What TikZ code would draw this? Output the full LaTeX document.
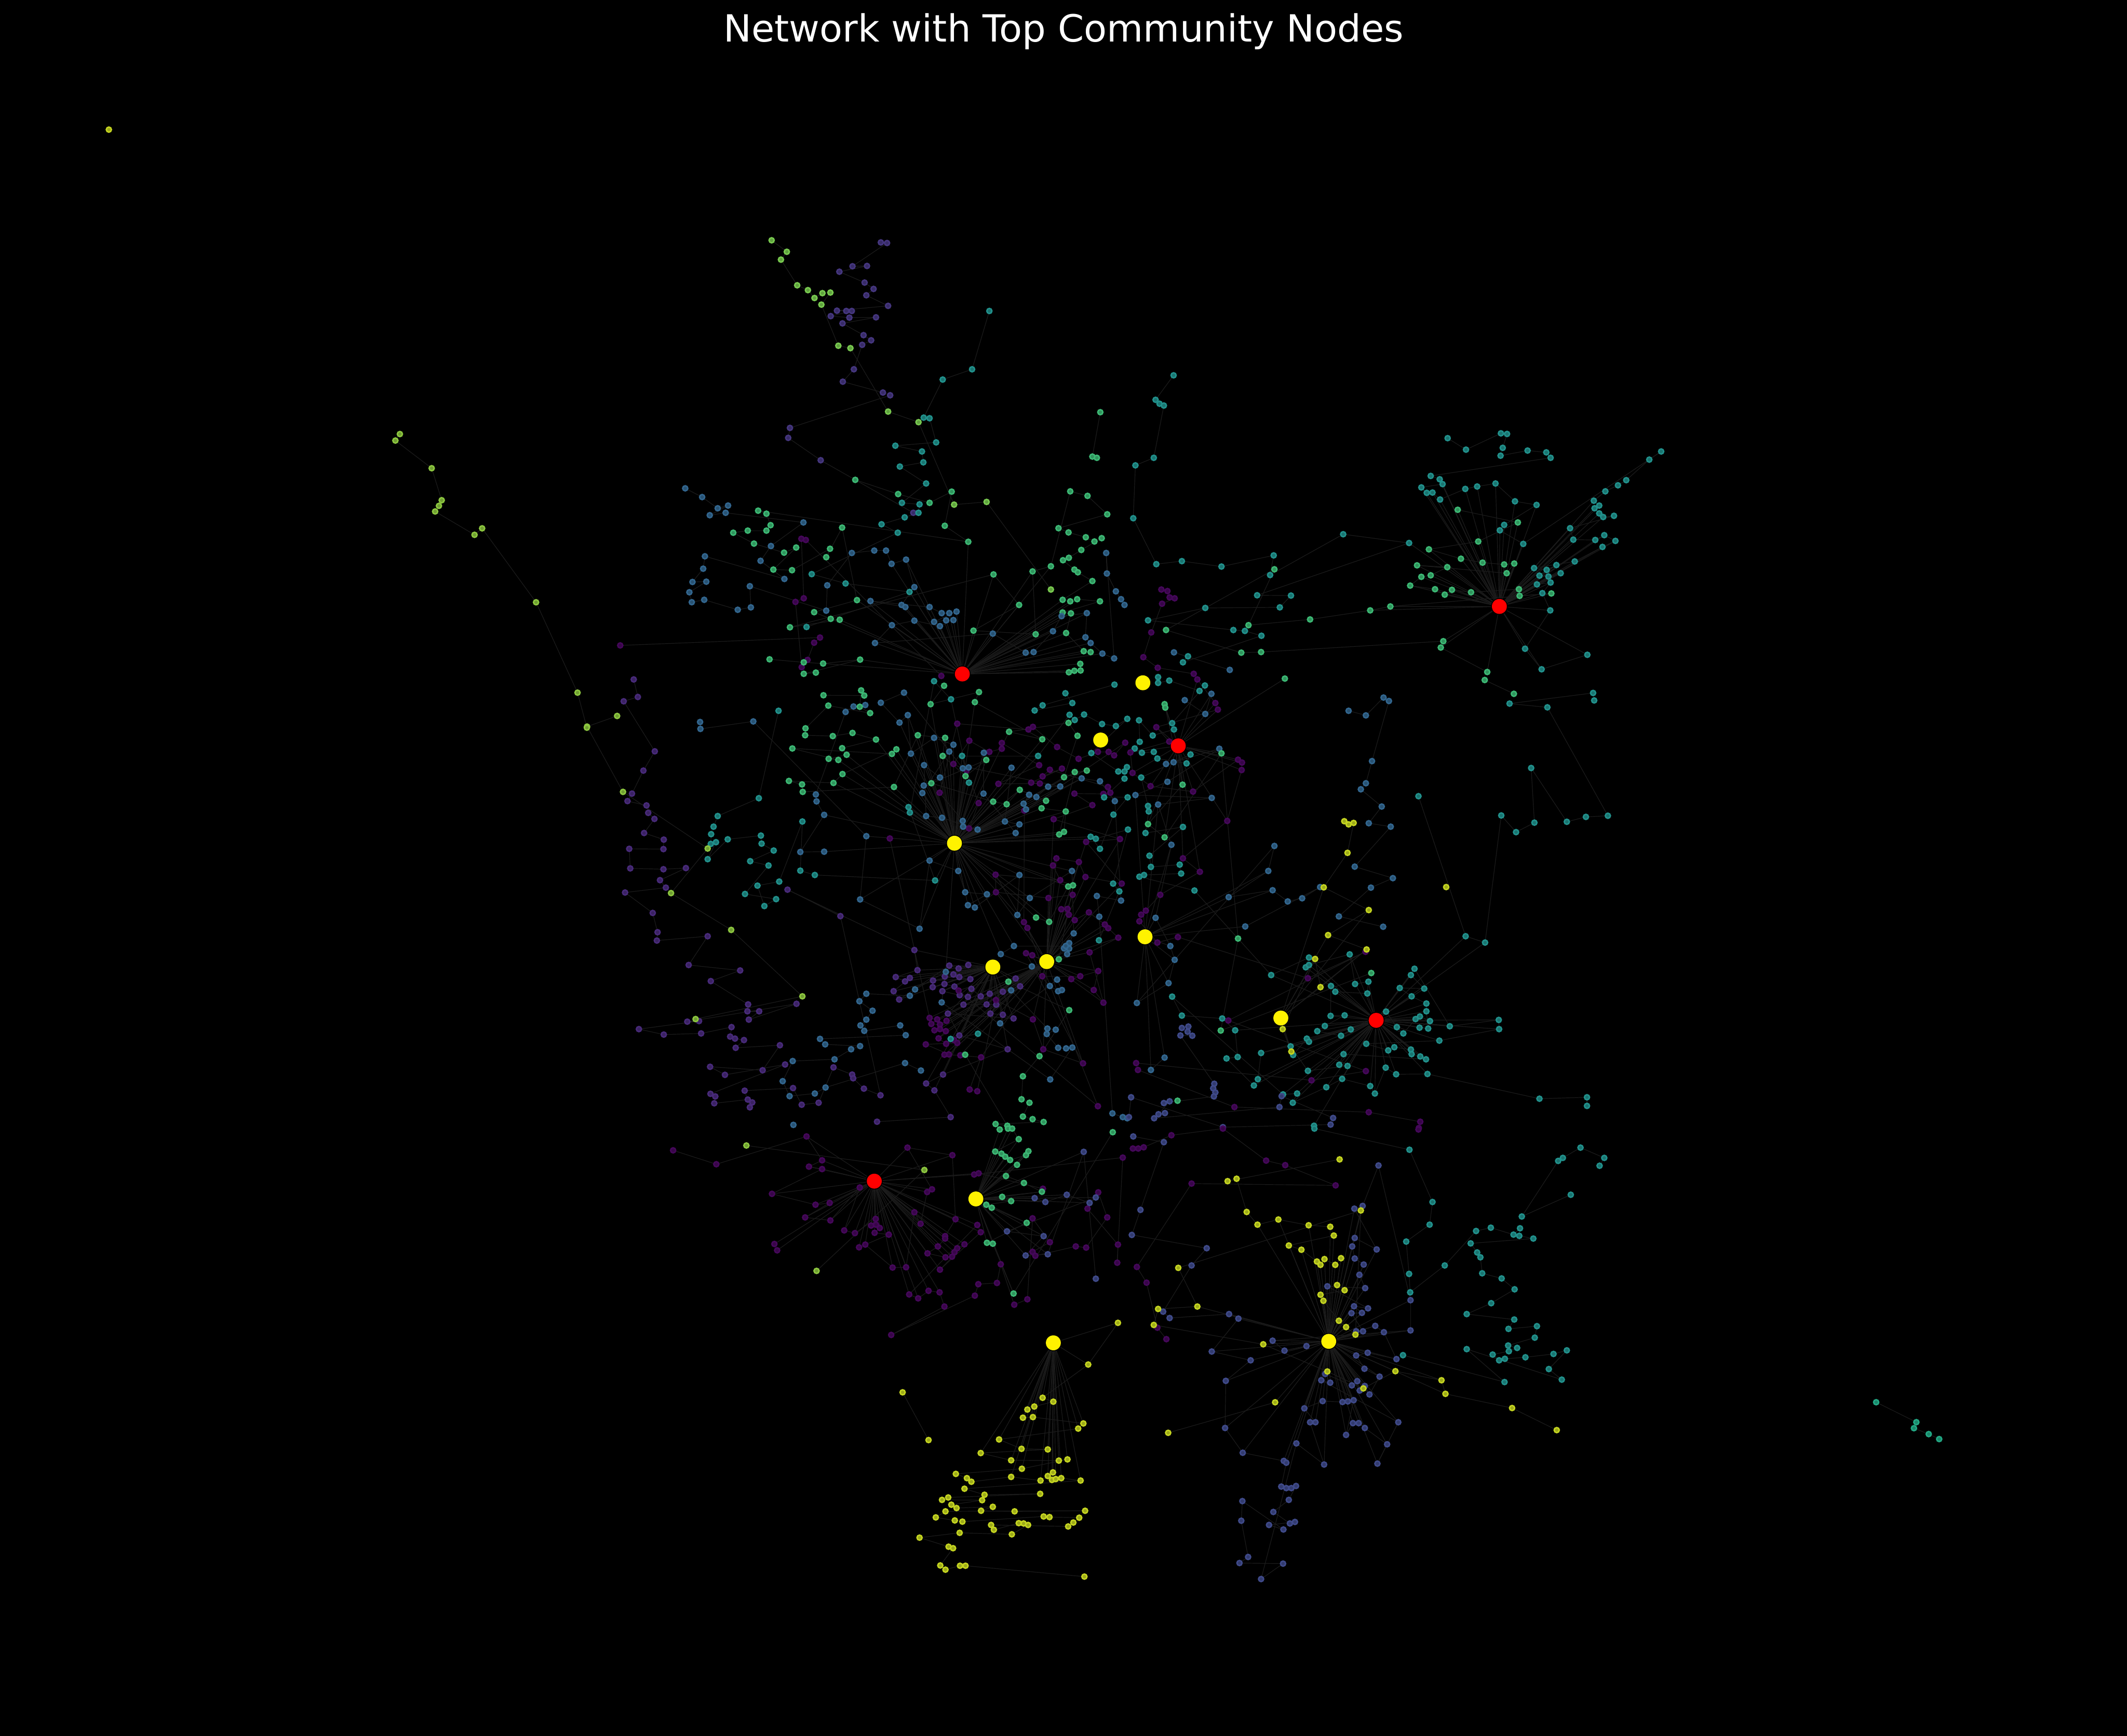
\documentclass[tikz,border=0pt]{standalone}
\usepackage{fontspec}
\newfontfamily\titlefont{DejaVu Sans}
\usepackage{tikz}
\pgfdeclarelayer{edges}
\pgfdeclarelayer{front}
\pgfsetlayers{edges,main,front}
\definecolor{vdark}{HTML}{45075A}
\definecolor{vpurple}{HTML}{482A7A}
\definecolor{vindigo}{HTML}{45367F}
\definecolor{vslate}{HTML}{3F4A8A}
\definecolor{vblue}{HTML}{32668F}
\definecolor{vteal}{HTML}{21918C}
\definecolor{vjade}{HTML}{22A884}
\definecolor{vgreen}{HTML}{3CB874}
\definecolor{vlime}{HTML}{78C94F}
\definecolor{vleaf}{HTML}{8CC63F}
\definecolor{volive}{HTML}{C4D420}
\definecolor{linkgrey}{HTML}{1B1B1B}
\tikzset{
  vtx/.style={fill=#1!80!black, draw=#1, line width=0.3pt},
  link/.style={draw=linkgrey, line width=0.13pt},
  hubnode/.style={circle, fill=#1, inner sep=0pt, minimum size=0.11cm},
  patch/.style n args={4}{shift={(#1cm,#2cm)}, x=#3cm, y=#4cm},
  titletext/.style={text=white, font=\titlefont\fontsize{7.85}{9}\selectfont, anchor=base, inner sep=0pt}}
% link two named points if they lie close enough
\newcommand\linknear[3]{%
  \pgfpointdiff{\pgfpointanchor{#1}{center}}{\pgfpointanchor{#2}{center}}%
  \pgfgetlastxy\hubdx\hubdy
  \pgfmathparse{veclen(\hubdx,\hubdy)}%
  \ifdim\pgfmathresult pt<#3\draw[link] (#1) -- (#2);\fi}
% #1 name, #2 colour, #3 hub (or empty), #4 points
\newcommand\dotgroup[4]{%
  \foreach \p [count=\i] in {#4} {\path \p coordinate (#1-\i);}
  \begin{pgfonlayer}{edges}
    \foreach \p [count=\i] in {#4} {%
      \ifnum\i>1 \pgfmathtruncatemacro\j{\i-1}\linknear{#1-\j}{#1-\i}{45pt}\fi
      \ifx\relax#3\relax\else\linknear{#3}{#1-\i}{30pt}\fi}
  \end{pgfonlayer}
  \foreach \p [count=\i] in {#4} {\filldraw[vtx=#2] (#1-\i) circle[radius=0.019cm];}}

\begin{document}
\begin{tikzpicture}
\begin{pgfonlayer}{edges}
\fill[black] (0,0) rectangle (15.68,-12.80);
\end{pgfonlayer}
\useasboundingbox (0,0) rectangle (15.68,-12.80);

\node[titletext] (title) at (7.84,-0.31) {Network with Top Community Nodes};

% top community nodes
\begin{pgfonlayer}{front}
\node[hubnode=red] (r1) at (7.094,-4.970) {};
\node[hubnode=red] (r2) at (8.686,-5.500) {};
\node[hubnode=red] (r3) at (11.053,-4.472) {};
\node[hubnode=red] (r4) at (10.145,-7.524) {};
\node[hubnode=red] (r5) at (6.445,-8.710) {};
\node[hubnode=yellow] (y1) at (8.425,-5.035) {};
\node[hubnode=yellow] (y2) at (8.114,-5.457) {};
\node[hubnode=yellow] (y3) at (7.036,-6.218) {};
\node[hubnode=yellow] (y4) at (8.441,-6.908) {};
\node[hubnode=yellow] (y5) at (7.716,-7.091) {};
\node[hubnode=yellow] (y6) at (7.319,-7.131) {};
\node[hubnode=yellow] (y7) at (9.442,-7.507) {};
\node[hubnode=yellow] (y8) at (7.194,-8.841) {};
\node[hubnode=yellow] (y9) at (7.765,-9.902) {};
\node[hubnode=yellow] (y10) at (9.795,-9.891) {};
\end{pgfonlayer}

% upper left
\begin{scope}[patch={4.3276}{-1.4980}{0.0025476}{-0.0022291}]
\dotgroup{alime}{vlime}{}{(534,123),(578,161),(561,187),(608,272),(639,288),(658,314),(681,298),(704,296),(678,336),(727,472),(762,480),(871,690),(959,725),(1062,998),(1156,989),(1342,1279)}
\dotgroup{aindigo}{vindigo}{}{(850,130),(868,132),(768,209),(810,208),(730,227),(803,263),(829,284),(808,305),(871,340),(723,356),(750,357),(766,357),(705,374),(759,379),(836,378),(739,398),(800,437),(822,454),(796,469),(772,550),(740,591),(856,627),(877,636),(587,744),(582,777),(676,851),(944,1025)}
\dotgroup{adark}{vdark}{}{(96,1464),(674,1438),(657,1455),(638,1512),(621,1536),(603,1320),(627,1308),(620,1111),(633,1115),(1025,1565)}
\dotgroup{ateal}{vteal}{r1}{(1164,357),(1114,550),(1029,584),(974,710),(991,712),(1010,792),(892,803),(969,822),(973,858),(905,872),(981,928),(911,992),(962,997),(959,1025),(919,1040),(852,1063),(899,1091),(650,1228),(748,1259),(933,1287),(635,1403)}
\dotgroup{agreen}{vgreen}{r1}{(1485,692),(1462,839),(1475,843),(776,916),(900,963),(991,992),(1055,955),(1035,1068),(1103,1121),(495,1018),(519,1028),(531,1066),(519,1084),(465,1084),(423,1091),(483,1127),(570,1157),(605,1140),(539,1213),(593,1215),(703,1144),(692,1172),(738,1074),(781,1314),(657,1354),(705,1376),(731,1379),(587,1404),(1176,1229),(1250,1330),(1118,1415),(1298,1427),(1289,1219),(1342,1202),(1398,954),(1448,969),(1505,1030),(1364,1076),(1393,1090),(1443,1106),(1468,1120),(1489,1109),(1430,1148),(1394,1174),(1377,1182),(1410,1213),(1420,1222),(1462,1251),(1376,1313),(1398,1318),(1418,1311),(1484,1318),(1376,1355),(1400,1358),(1386,1423),(1437,1483),(1457,1486),(528,1510),(627,1520),(683,1524),(790,1511),(627,1558),(662,1554),(1394,1553),(1410,1548),(1428,1547),(1427,1525)}
\dotgroup{ablue}{vblue}{r1}{(284,944),(333,973),(378,1010),(408,1001),(355,1033),(401,1025),(626,1057),(532,1135),(502,1184),(571,1244),(341,1169),(336,1210),(305,1254),(345,1253),(296,1288),(303,1321),(339,1313),(436,1346),(474,1338),(471,1268),(692,1349),(695,1265),(766,1158),(831,1150),(865,1150),(881,1194),(923,1180),(947,1271),(910,1330),(921,1337),(820,1317),(991,1337),(1026,1357),(1048,1357),(1069,1352),(1004,1386),(1039,1381),(1060,1380),(1021,1400),(947,1382),(882,1397),(833,1456),(1174,1425),(1269,1488),(1292,1486),(1348,1417),(1373,1367),(1446,1357),(1442,1437),(1457,1456),(1491,1491),(1525,1507),(1502,1158),(1504,1226),(1530,1285),(1545,1311),(1555,1330)}
\end{scope}

% upper right
\begin{scope}[patch={8.3222}{-1.4980}{0.0026538}{-0.0022291}]
\dotgroup{bteal}{vteal}{r3}{(124,570),(74,651),(85,664),(97,670),(69,843),(18,868),(12,1043),(76,1195),(147,1185),(257,1203),(402,1166),(392,1231),(595,1096),(778,1125),(356,1298),(450,1299),(419,1338),(212,1340),(53,1381),(290,1413),(322,1416),(368,1432),(150,1520),(164,1500),(885,778),(936,816),(1033,762),(1050,764),(1038,810),(1032,836),(1107,819),(1159,825),(1171,843),(838,903),(863,914),(871,930),(812,941),(827,959),(843,958),(864,981),(934,946),(967,938),(1018,928),(1072,987),(1132,999),(1042,1065),(1030,1083),(1095,1128),(1478,822),(1445,849),(1381,917),(1358,934),(1323,954),(1291,985),(1306,1001),(1293,1010),(1306,1027),(1317,1039),(1347,1035),(1225,1076),(1234,1114),(1295,1115),(1320,1099),(1351,1118),(1315,1138),(1238,1186),(1125,1208),(1160,1214),(1187,1198),(1140,1233),(1165,1236),(1199,1225),(1133,1262),(1171,1256),(1148,1291),(1170,1348),(1100,1475),(1146,1543),(1273,1495)}
\dotgroup{bgreen}{vgreen}{r3}{(913,1015),(1080,1057),(970,1120),(833,1146),(922,1177),(982,1190),(1042,1196),(1070,1193),(1049,1225),(800,1199),(884,1205),(838,1232),(812,1237),(781,1266),(850,1278),(877,1296),(897,1280),(950,1288),(1083,1278),(1085,1300),(1173,1292),(726,1335),(670,1348),(503,1378),(332,1397),(404,1212),(103,1413),(312,1488),(367,1486),(873,1450),(866,1471),(995,1552)}
\dotgroup{bdark}{vdark}{}{(90,1279),(107,1284),(113,1305),(127,1308),(92,1326),(62,1421),(40,1503),(80,1538),(180,1558)}
\dotgroup{bblue}{vblue}{}{(125,1487),(280,1545)}
\end{scope}

% middle left
\begin{scope}[patch={4.3276}{-4.9933}{0.0025476}{-0.0021231}]
\dotgroup{cpurple}{vpurple}{y6}{(135,8),(147,69),(106,84),(196,258),(163,325),(130,405),(117,431),(172,446),(177,472),(195,493),(165,542),(222,565),(221,598),(122,597),(125,665),(221,668),(286,664),(211,706),(228,732),(110,749),(190,820),(204,887),(202,916),(349,901),(294,1001),(443,1020),(358,1057),(466,1138),(464,1162),(498,1162),(468,1191),(606,1136),(290,1198),(324,1196),(150,1224),(222,1243),(330,1239),(418,1217),(414,1250),(428,1257),(454,1262),(430,1289),(558,1280),(508,1367),(356,1355),(399,1383),(573,1347),(357,1449),(371,1458),(368,1482),(465,1469),(478,1479),(471,1496),(456,1438),(596,1429),(621,1487),(670,1480),(713,1357),(767,1382),(770,1395),(801,1431),(849,1454),(733,831),(580,739),(947,949),(956,1019),(893,1043),(920,1058),(934,1046),(887,1092),(903,1121),(1048,1003),(1075,1013),(1103,1001),(1060,1034),(1077,1043),(1035,1041),(1109,1050),(1001,1055),(1000,1078),(1034,1067),(1063,1076),(1028,1092),(1078,1106),(1102,1112),(1112,1084),(1139,1110),(1165,1101),(1203,1094),(1240,1048),(1253,1075),(1089,1139),(1156,1138),(1184,1139),(1167,1170),(1203,1174),(1234,1187),(1044,1170),(1077,1246),(1217,1294),(1030,1382),(981,1413),(1005,1437),(1052,1530),(839,1546)}
\dotgroup{cdark}{vdark}{y5}{(876,561),(991,1185),(1013,1190),(996,1206),(1021,1208),(1040,1195),(1005,1228),(1021,1224),(1038,1231),(1017,1256),(1039,1275),(1062,1262),(1071,1272),(980,1277),(1047,1312),(1034,1313),(1080,1315),(1140,1322),(1107,1434),(1129,1440),(1183,1123),(1290,1190),(1320,1294),(1435,1343),(1270,960),(1288,967),(1317,1040),(1427,1040),(1401,1050),(1479,1022),(1466,1088),(1494,1132),(1454,957),(1537,906),(1508,873),(1498,860),(1452,818),(1411,845),(1394,826),(1372,807),(1390,806),(1405,757),(1335,768),(1183,748),(1182,687),(1369,706),(1348,655),(1358,630),(1423,643),(1442,695),(1547,718),(1444,573),(1542,563),(1350,494),(1462,445),(1410,405),(1494,406),(1514,402),(1507,382),(1339,322),(1318,345),(1374,318),(1285,367),(1310,370),(1190,371),(1308,306),(1200,229),(1200,249),(1164,260),(1106,221),(1060,302),(1098,325),(1133,438),(1105,526),(1020,402),(1071,162),(1277,182),(1290,173),(1360,243),(1422,284),(1478,260),(1509,260),(1525,272),(1557,228),(1265,464),(1264,852),(1274,872),(1478,1492),(1075,1090)}
\dotgroup{cblue}{vblue}{y3}{(327,156),(328,180),(481,154),(808,553),(790,773),(962,875),(991,638),(1074,674),(1094,748),(1157,755),(1102,793),(1122,801),(1251,688),(1245,827),(1281,768),(1403,674),(1408,891),(1395,925),(1380,943),(1395,944),(1389,963),(1385,935),(1235,935),(1197,963),(1287,1006),(1339,1074),(1363,1092),(1374,1088),(1360,1052),(1195,1204),(1227,1089),(1332,1222),(1356,1226),(1330,1241),(1363,1289),(1386,1291),(1404,1288),(1340,1399),(1026,1131),(1038,1025),(949,1086),(934,1108),(808,1101),(788,1127),(826,1160),(808,1191),(791,1211),(802,1230),(906,1211),(922,1245),(674,1258),(689,1277),(790,1283),(764,1294),(716,1329),(595,1335),(566,1405),(586,1457),(659,1448),(690,1427),(920,1342),(966,1368),(1228,315),(1209,502),(1251,512),(1240,542),(1147,405),(1148,263),(1087,500),(1088,520),(1130,530),(1027,489),(981,483),(975,306),(1021,349),(974,377),(970,403),(1048,259),(1060,235),(1004,211),(937,266),(928,132),(904,158),(850,89),(917,54),(1087,317),(1104,314),(1369,380),(1334,381),(1300,417),(1279,409),(1263,440),(1270,460),(1431,352),(1484,362),(1527,431),(1545,777),(1475,761),(1482,833),(1520,1517),(1550,1530),(1563,1534),(597,1557),(805,97),(771,102),(748,121),(662,408),(664,432),(686,479),(617,608),(686,607)}
\dotgroup{cteal}{vteal}{y3}{(554,117),(497,421),(378,483),(366,520),(359,546),(358,580),(373,574),(349,633),(407,564),(503,551),(505,579),(540,603),(472,640),(525,655),(457,754),(547,772),(513,796),(493,725),(556,711),(623,502),(617,673),(659,688),(1007,707),(930,452),(934,471),(1004,14),(1053,77),(1105,367),(1085,274),(1305,274),(1396,131),(1411,149),(1438,130),(1490,163),(1530,170),(1563,145),(1459,264),(1537,328),(1555,328),(1562,313),(1555,353),(1496,418),(1564,418),(1523,478),(1484,597),(1457,555),(1472,562),(1565,530),(1522,718),(1540,745),(1481,915),(1384,56),(1404,90),(1295,116),(1318,98),(1526,26),(1052,1258),(1131,1240)}
\dotgroup{cgreen}{vgreen}{y3}{(684,63),(802,64),(793,46),(789,103),(819,125),(698,99),(632,178),(631,202),(711,205),(768,194),(836,217),(738,247),(751,270),(699,284),(727,288),(594,248),(882,267),(895,251),(739,337),(713,368),(584,361),(622,373),(624,399),(888,382),(957,202),(1036,211),(1029,274),(1095,344),(1155,288),(996,369),(1175,433),(1214,442),(1252,392),(1328,430),(1315,456),(1385,467),(1380,538),(1366,547),(1411,330),(1446,325),(1380,348),(1419,204),(1393,159),(1221,190),(1317,216),(1122,87),(1134,52),(994,94),(1033,30),(1299,836),(1337,851),(1392,728),(1406,724),(1365,981),(1219,1059),(1395,1158),(1309,1318),(1261,1388),(1257,1468),(1280,1480),(1261,1528),(1289,1537),(1321,1547),(1182,1554),(1216,1560),(1094,1313)}
\dotgroup{cleaf}{vleaf}{}{(87,135),(0,172),(104,399),(349,596),(243,751),(417,879),(623,1110),(314,1189)}
\end{scope}

% middle right
\begin{scope}[patch={8.3222}{-4.9933}{0.0026538}{-0.0021231}]
\dotgroup{dblue}{vblue}{y4}{(155,80),(212,128),(229,58),(103,302),(124,296),(251,249),(107,364),(18,410),(230,420),(81,443),(118,583),(74,837),(115,935),(127,983),(110,1064),(22,1133),(404,587),(387,674),(277,765),(399,741),(441,780),(481,769),(531,730),(323,867),(610,117),(658,133),(707,71),(722,83),(675,292),(658,369),(644,390),(702,450),(666,508),(727,520),(627,659),(733,699),(672,732),(583,832),(706,868),(99,1323),(61,1366)}
\dotgroup{dteal}{vteal}{r4}{(81,0),(81,20),(112,12),(196,48),(211,29),(120,160),(125,182),(66,203),(28,150),(30,225),(16,248),(36,263),(69,260),(79,283),(160,300),(171,269),(34,349),(53,448),(55,467),(46,542),(150,521),(57,621),(61,660),(141,652),(145,683),(42,688),(29,694),(182,742),(395,1036),(500,975),(491,1009),(500,1001),(613,964),(628,1067),(665,1059),(662,1100),(573,1094),(561,1074),(560,1178),(599,1176),(544,1213),(523,1231),(589,1247),(616,1225),(714,1163),(744,1217),(762,1239),(796,1189),(808,1180),(836,1196),(807,1219),(831,1222),(826,1162),(826,1135),(785,1110),(752,1081),(820,1083),(783,1036),(793,1014),(891,1214),(1027,1192),(1028,1224),(862,1264),(659,1275),(720,1298),(737,1287),(783,1295),(785,1311),(809,1319),(825,1329),(596,1311),(584,1348),(607,1352),(497,1369),(449,1284),(456,1314),(494,1257),(500,1268),(367,1307),(358,1398),(347,1420),(271,1326),(302,1321),(295,1228),(259,1187),(147,1177),(120,1111),(428,1451),(467,1448),(455,1480),(548,1426),(592,1397),(670,1422),(683,1448),(713,1358),(742,1381),(829,1380),(1140,1466),(1272,1461),(1272,1491),(514,1560),(804,414),(935,901),(989,923),(1034,481),(1075,539),(1126,506),(1117,316),(1216,503),(1269,486),(1330,482),(1162,105),(1057,92),(1289,55),(1292,81)}
\dotgroup{ddark}{vdark}{r2}{(190,8),(240,90),(247,113),(76,174),(112,224),(4,262),(10,333),(60,379),(178,398),(303,287),(314,297),(313,323),(273,500),(150,630),(197,677),(87,757),(47,812),(34,826),(29,849),(79,923),(136,904),(497,1047),(657,955),(276,1194),(658,1370),(507,1402),(20,1342),(25,1366),(293,1495),(666,1513),(809,1546),(805,1568)}
\dotgroup{dslate}{vslate}{}{(147,1220),(165,1215),(163,1233),(176,1247),(143,1246),(237,1414),(234,1430),(240,1444),(236,1458),(97,1481),(113,1475),(82,1520),(100,1516),(70,1534),(418,1495),(424,1457),(567,1533),(560,1556),(261,1565),(6,1461),(0,1530)}
\dotgroup{dgreen}{vgreen}{r2}{(99,94),(101,106),(149,374),(53,511),(99,557),(257,265),(303,909),(255,1229),(673,1029),(988,10),(1069,58),(433,5),(135,1473)}
\dotgroup{dolive}{volive}{y7}{(598,501),(610,512),(624,507),(607,611),(541,731),(666,810),(553,897),(660,947),(532,1078),(517,980),(427,1224),(451,1302),(881,730)}
\end{scope}

% lower left
\begin{scope}[patch={4.3276}{-8.3222}{0.0025476}{-0.0022291}]
\dotgroup{edark}{vdark}{r5}{(249,72),(374,118),(635,26),(680,105),(642,126),(680,134),(535,216),(661,252),(702,246),(631,294),(704,304),(789,195),(744,337),(775,346),(835,299),(822,321),(836,318),(847,329),(832,345),(873,351),(787,393),(805,384),(884,460),(923,459),(947,277),(965,315),(984,210),(998,201),(927,63),(1057,88),(1066,300),(1036,356),(1036,364),(1015,390),(985,413),(1037,426),(1056,424),(1063,409),(1071,396),(1092,383),(1021,467),(1139,343),(1129,319),(932,549),(958,562),(988,537),(1020,542),(1034,589),(880,683),(1122,553),(1132,515),(1186,511),(1197,449),(1236,583),(1274,565),(1289,297),(1339,376),(1289,408),(1297,421),(1414,390),(1444,394),(1505,294),(1479,211),(1448,265),(1536,384),(1534,444),(1550,96),(1120,152),(1133,148),(1319,199),(542,382),(550,403)}
\dotgroup{eslate}{vslate}{y8}{(1295,230),(1326,243),(1388,219),(1454,246),(1472,228),(1215,340),(1321,356),(1269,420),(1333,416),(1437,77),(1472,497)}
\dotgroup{egreen}{vgreen}{y8}{(1194,3),(1218,0),(1230,0),(1249,35),(1181,76),(1199,83),(1210,93),(1224,104),(1270,88),(1277,75),(1244,120),(1212,157),(1264,180),(1316,209),(1201,226),(1227,240),(1155,252),(1171,262),(1272,312),(1157,378),(1174,381),(1234,546),(1521,12)}
\dotgroup{eleaf}{vleaf}{}{(461,56),(976,137),(664,471)}
\dotgroup{eolive}{volive}{y9}{(913,873),(988,1031),(1536,643),(1450,781),(1318,891),(1349,904),(1294,920),(1274,930),(1261,957),(1290,955),(1436,976),(1421,993),(1192,1029),(1257,1060),(1333,1062),(1139,1074),(1227,1098),(1365,1099),(1390,1095),(1258,1126),(1067,1143),(1099,1157),(1112,1169),(1227,1153),(1312,1165),(1333,1150),(1348,1138),(1345,1163),(1356,1160),(1372,1157),(1428,1165),(1092,1192),(1150,1212),(1311,1209),(1045,1221),(1027,1229),(1143,1230),(1054,1245),(1069,1256),(1174,1252),(1140,1265),(1237,1267),(1441,1265),(1037,1267),(1009,1287),(1064,1297),(1086,1301),(1321,1284),(1338,1286),(1424,1288),(1407,1304),(1392,1317),(1169,1312),(1177,1328),(1249,1306),(1263,1307),(1276,1312),(1229,1343),(1078,1338),(962,1354),(1046,1384),(1059,1389),(1022,1446),(1037,1460),(1079,1447),(1095,1447),(1439,1483)}
\end{scope}

% lower right
\begin{scope}[patch={8.3222}{-8.3222}{0.0026538}{-0.0022291}]
\dotgroup{fslate}{vslate}{y10}{(12,26),(97,45),(32,269),(8,352),(216,396),(174,453),(95,606),(113,627),(278,614),(304,629),(230,738),(338,767),(269,835),(267,991),(316,1073),(430,1100),(437,1106),(423,1185),(437,1190),(451,1190),(464,1183),(444,1229),(401,1269),(447,1307),(461,1302),(389,1312),(429,1327),(315,1233),(312,1298),(331,1418),(307,1438),(428,1440),(367,1491),(465,1042),(542,1112),(503,972),(518,972),(487,926),(538,902),(593,905),(608,903),(624,899),(603,1014),(622,975),(638,975),(655,991),(717,1045),(690,1109),(748,972),(534,833),(559,841),(545,812),(619,850),(634,836),(641,867),(655,852),(668,880),(696,821),(654,795),(631,751),(663,742),(743,763),(708,674),(684,653),(631,671),(650,671),(618,611),(647,610),(625,588),(664,595),(551,522),(656,528),(640,484),(652,450),(627,430),(620,390),(627,362),(688,400),(626,265),(649,256),(693,122),(782,568),(782,668),(399,702),(432,735),(493,720)}
\dotgroup{fdark}{vdark}{}{(11,66),(26,66),(41,62),(118,22),(261,0),(381,106),(434,121),(574,188),(174,182),(22,458),(49,510),(79,659),(104,697),(804,3)}
\dotgroup{folive}{volive}{y10}{(585,102),(274,174),(299,166),(327,276),(357,318),(415,301),(499,320),(559,325),(569,354),(444,387),(479,401),(522,440),(532,451),(543,432),(573,451),(589,429),(578,518),(599,535),(532,550),(540,570),(583,636),(603,657),(629,682),(644,271),(137,461),(190,589),(81,597),(69,650),(373,714),(551,804),(651,860),(740,803),(868,833),(879,878),(1064,925),(1188,998),(406,906),(109,1007)}
\dotgroup{fteal}{vteal}{}{(515,0),(779,70),(843,243),(835,318),(770,374),(778,481),(781,542),(877,453),(964,339),(1005,328),(1068,351),(1086,330),(1084,355),(1123,364),(949,380),(967,410),(976,426),(981,479),(1035,496),(1071,532),(1006,578),(938,614),(1070,632),(1054,663),(1133,654),(1127,692),(1053,718),(1078,726),(1055,737),(1010,748),(1028,767),(1044,762),(1101,757),(1179,746),(1216,734),(1166,796),(1202,831),(938,730),(1043,839),(761,750),(1227,219),(1091,291),(1192,107),(1205,97),(1254,63),(1320,97),(1307,123)}
\end{scope}

% far left strand and lone node
\begin{scope}[patch={0.4993}{-0.6658}{0.0025476}{-0.0031846}]
\dotgroup{gleaf}{vleaf}{}{(961,795),(948,810),(1053,874),(1082,948),(1074,961),(1063,974),(1177,1028),(1199,1013),(1355,1184),(1475,1393),(1502,1474)}
\dotgroup{glone}{volive}{}{(119,91)}
\end{scope}

% far right strand
\begin{scope}[patch={12.4834}{-9.6538}{0.0012738}{-0.0011096}]
\dotgroup{hjade}{vjade}{}{(1064,616),(1298,748),(1284,788),(1370,827),(1431,860)}
\end{scope}
\end{tikzpicture}
\end{document}
